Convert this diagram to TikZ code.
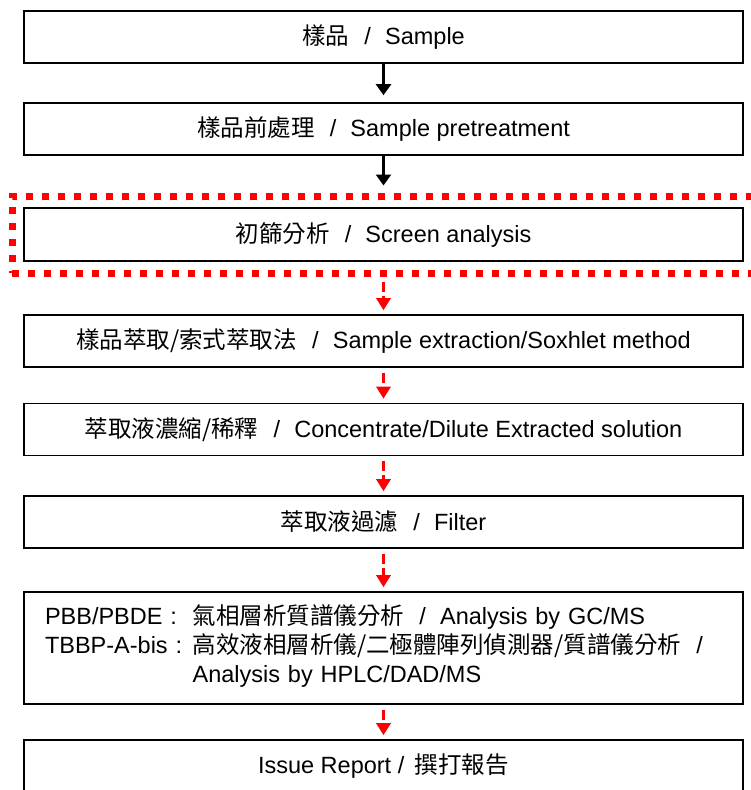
\documentclass[tikz,border=0pt]{standalone}
\usepackage{fontspec}
\setmainfont{Liberation Sans}
\newfontfamily\cjk{Noto Sans CJK TC}
\usetikzlibrary{arrows.meta}

\newcommand{\zh}[1]{{\cjk #1}}
\newcommand{\sep}{\hspace{0.65em}/\hspace{0.6em}}

\begin{document}
\begin{tikzpicture}[x=1pt, y=-1pt,
    stepbox/.style={draw=black, line width=1.6pt, minimum width=719pt,
        minimum height=52pt, inner sep=0pt, font=\fontsize{23.5}{29}\selectfont},
    solidarrow/.style={draw=black, line width=2.4pt, shorten >=7pt,
        -{Triangle[width=15pt,length=11pt]}},
    redarrow/.style={draw=red, line width=3pt, dash pattern=on 10pt off 4pt,
        shorten <=5pt, shorten >=4pt, -{Triangle[width=14pt,length=12pt]}},
    redframe/.style={draw=red, line width=7pt, dash pattern=on 7pt off 9pt,
        inner sep=0pt}]

    \useasboundingbox (0,0) rectangle (750,790);

    \def\midx{383.5}

    \node[stepbox] (sample) at (\midx,37) {\zh{樣品}\sep Sample};
    \node[stepbox] (pretreat) at (\midx,129) {\zh{樣品前處理}\sep Sample pretreatment};
    \node[stepbox, minimum height=53pt] (screen) at (\midx,234.5) {\zh{初篩分析}\sep Screen analysis};
    \node[redframe, minimum width=748pt, minimum height=77pt] (frame) at (386,234.5) {};

    \node[stepbox] (extract) at (\midx,341)
        {\zh{樣品萃取/索式萃取法}\sep Sample extraction/Soxhlet method};
    \node[stepbox] (dilute) at (\midx,429.5)
        {\zh{萃取液濃縮/稀釋}\sep Concentrate/Dilute Extracted solution};
    \node[stepbox] (filter) at (\midx,522) {\zh{萃取液過濾}\sep Filter};

    % Análisis
    \node[stepbox, minimum height=112pt, text width=677pt, inner xsep=21pt, align=left]
        (analysis) at (\midx,648) {%
        \begin{tabular}{@{}l@{\hspace{0.45em}}l@{}}
            PBB/PBDE : & \zh{氣相層析質譜儀分析}\sep Analysis by GC/MS\\
            TBBP-A-bis : & \zh{高效液相層析儀/二極體陣列偵測器/質譜儀分析}\hspace{0.65em}/\\
                       & Analysis by HPLC/DAD/MS
        \end{tabular}};

    \node[stepbox] (report) at (\midx,766) {Issue Report /\hspace{0.45em}\zh{撰打報告}};

    % Flechas
    \draw[solidarrow] (sample) -- (pretreat);
    \draw[solidarrow] (pretreat) -- (frame.north -| pretreat);
    \draw[redarrow] (frame.south -| extract) -- (extract);
    \draw[redarrow] (extract) -- (dilute);
    \draw[redarrow] (dilute) -- (filter);
    \draw[redarrow] (filter) -- (analysis);
    \draw[redarrow] (analysis) -- (report);

\end{tikzpicture}
\end{document}
